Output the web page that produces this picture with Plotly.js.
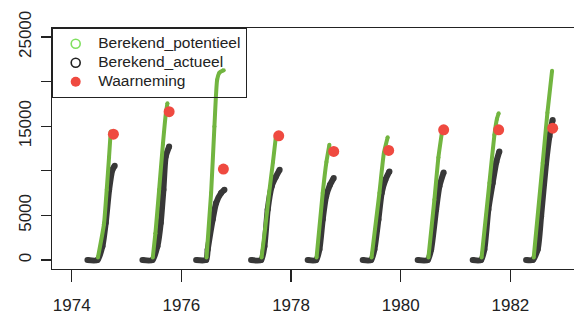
<!DOCTYPE html>
<html>
<head>
<meta charset="utf-8">
<script src="https://cdn.plot.ly/plotly-3.0.1.min.js"></script>
<style>html,body{margin:0;padding:0;background:#fff;}#chart{width:574px;height:314px;}</style>
</head>
<body>
<div id="chart"></div>
<script>
// Seasons separated by null (decimal years)
var potTime = [
  1974.478, 1974.587, 1974.638, 1974.680, 1974.711, null,
  1975.478, 1975.526, 1975.594, 1975.663, 1975.718, 1975.745, null,
  1976.458, 1976.542, 1976.602, 1976.651, 1976.693, 1976.772, null,
  1977.462, 1977.527, 1977.600, 1977.670, 1977.727, null,
  1978.465, 1978.577, 1978.645, 1978.699, null,
  1979.468, 1979.611, 1979.693, 1979.762, null,
  1980.505, 1980.614, 1980.687, 1980.754, null,
  1981.475, 1981.617, 1981.708, 1981.754, 1981.786, null,
  1982.425, 1982.589, 1982.675, 1982.760
];
var potValue = [
  300, 4000, 7890, 11500, 14400, null,
  300, 3000, 7890, 13000, 16500, 17570, null,
  300, 7520, 14960, 20170, 21000, 21280, null,
  300, 3500, 7520, 11000, 14030, null,
  300, 7520, 11000, 12910, null,
  300, 7520, 12000, 13770, null,
  300, 6770, 11500, 14400, null,
  300, 8640, 14000, 15800, 16450, null,
  300, 10870, 16500, 21200
];
var actTime = [
  1974.286, 1974.469, 1974.560, 1974.620, 1974.682, 1974.742, 1974.784, null,
  1975.289, 1975.472, 1975.563, 1975.623, 1975.672, 1975.714, 1975.776, null,
  1976.268, 1976.451, 1976.480, 1976.571, 1976.633, 1976.724, 1976.785, null,
  1977.271, 1977.454, 1977.514, 1977.574, 1977.647, 1977.720, 1977.792, null,
  1978.303, 1978.457, 1978.517, 1978.577, 1978.639, 1978.708, 1978.778, null,
  1979.306, 1979.460, 1979.520, 1979.593, 1979.653, 1979.721, 1979.794, null,
  1980.309, 1980.492, 1980.554, 1980.645, 1980.705, 1980.783, null,
  1981.312, 1981.465, 1981.525, 1981.598, 1981.677, 1981.744, 1981.799, null,
  1982.286, 1982.407, 1982.498, 1982.560, 1982.651, 1982.711, 1982.771
];
var actValue = [
  0, 0, 1560, 4170, 7890, 10120, 10570, null,
  0, 0, 1560, 4170, 7890, 11610, 12720, null,
  0, 0, 1190, 4540, 6400, 7520, 7890, null,
  0, 0, 1560, 5660, 8260, 9300, 10120, null,
  0, 0, 1190, 4540, 7140, 8400, 9200, null,
  0, 0, 1190, 4540, 7520, 9000, 9930, null,
  0, 0, 1190, 5660, 8260, 9820, null,
  0, 0, 1190, 5660, 8640, 11000, 12170, null,
  0, 0, 1190, 4910, 10870, 13840, 15700
];
var obsTime = [1974.760, 1975.776, 1976.766, 1977.775, 1978.778, 1979.780, 1980.783, 1981.786, 1982.771];
var obsValue = [14100, 16630, 10200, 13920, 12170, 12280, 14590, 14590, 14780];

var seriesNames = ["Berekend_potentieel", "Berekend_actueel", "Waarneming"];
var xTicks = [1974, 1976, 1978, 1980, 1982];
var yTicks = [0, 5000, 10000, 15000, 20000, 25000];
var yTickText = ["0", "5000", "", "15000", "", "25000"];

var greenLine = "#72b540";
var blackLine = "#383838";
var redPt = "#ef4a40";
var fontFam = "Liberation Sans, Arial, sans-serif";

function legName(s) { return '<span style="font-size:15.5px">' + s + '</span>'; }

var traces = [
  {x: actTime, y: actValue, mode: "lines+markers", line: {color: blackLine, width: 6, shape: "spline", smoothing: 0.6},
   marker: {color: blackLine, size: 6}, showlegend: false, hoverinfo: "skip"},
  {x: potTime, y: potValue, mode: "lines+markers", line: {color: greenLine, width: 4, shape: "spline", smoothing: 0.5},
   marker: {color: greenLine, size: 4}, showlegend: false, hoverinfo: "skip"},
  {x: obsTime, y: obsValue, mode: "markers", marker: {color: redPt, size: 11, line: {width: 0}}, showlegend: false},
  {x: [null], y: [null], mode: "markers", name: legName(seriesNames[0]),
   marker: {symbol: "circle-open", color: "#80e060", size: 9, line: {width: 1.6}}},
  {x: [null], y: [null], mode: "markers", name: legName(seriesNames[1]),
   marker: {symbol: "circle-open", color: "#222", size: 9, line: {width: 1.6}}},
  {x: [null], y: [null], mode: "markers", name: legName(seriesNames[2]),
   marker: {symbol: "circle", color: redPt, size: 10}}
];

var axisFont = {family: fontFam, size: 17, color: "#222"};

var layout = {
  width: 574, height: 314,
  margin: {l: 52, r: 0, t: 28, b: 45, pad: 0},
  paper_bgcolor: "#fff", plot_bgcolor: "#fff",
  showlegend: true,
  legend: {x: 0, y: 1, xanchor: "left", yanchor: "top", bgcolor: "rgba(255,255,255,0)",
           bordercolor: "#222", borderwidth: 1.2, itemwidth: 35,
           font: {family: fontFam, size: 10.5, color: "#222"}},
  xaxis: {range: [1973.64, 1983.16], tickvals: xTicks, ticktext: xTicks.map(String),
          showline: true, mirror: true, linecolor: "#222", linewidth: 1.3,
          ticks: "outside", ticklen: 12, tickwidth: 1.3, tickcolor: "#222",
          ticklabelstandoff: 8,
          showgrid: false, zeroline: false, tickfont: axisFont},
  yaxis: {range: [-1000, 26000], tickvals: yTicks, ticktext: yTickText, tickangle: -90,
          showline: true, mirror: false, linecolor: "#222", linewidth: 1.3,
          ticks: "outside", ticklen: 10, tickwidth: 1.3, tickcolor: "#222",
          ticklabelstandoff: 3,
          showgrid: false, zeroline: false, tickfont: axisFont}
};

Plotly.newPlot("chart", traces, layout, {staticPlot: true, displayModeBar: false});
</script>
</body>
</html>
